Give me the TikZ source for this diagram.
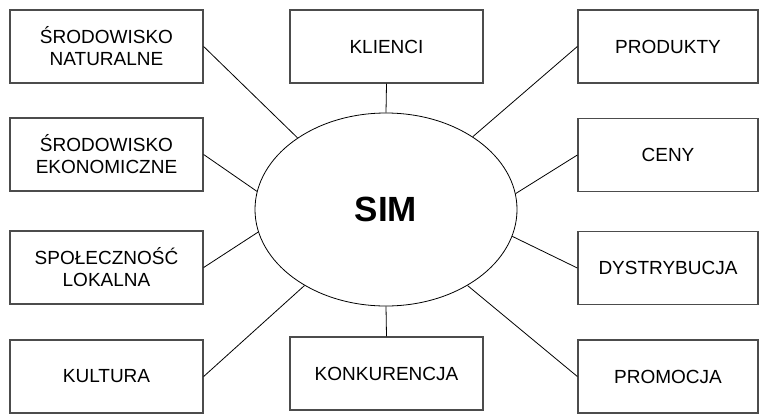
\documentclass[tikz,border=0pt]{standalone}
\usepackage{fontspec}
\setmainfont{Liberation Sans}
\usetikzlibrary{shapes.geometric}

\begin{document}
\begin{tikzpicture}
				[x=1pt,y=-1pt,
				box/.style={rectangle,draw=black!70,line width=1.3pt,inner sep=0pt,
					minimum width=193pt,minimum height=73pt,align=center,
					font=\fontsize{19}{22}\selectfont},
				rbox/.style={box,minimum width=180pt},
				link/.style={line width=0.8pt}]
				\useasboundingbox (0,0) rectangle (759,415);
				\node[ellipse,draw,line width=0.8pt,minimum width=262pt,minimum height=193pt,
					font=\fontsize{35}{38}\selectfont\bfseries] (sim) at (386,209.5) {SIM};
				\node[box] (naturalne) at (106.5,46.5) {ŚRODOWISKO\\NATURALNE};
				\node[box] (ekonomiczne) at (106.5,154.5) {ŚRODOWISKO\\EKONOMICZNE};
				\node[box] (spolecznosc) at (106.5,267.5) {SPOŁECZNOŚĆ\\LOKALNA};
				\node[box] (kultura) at (106.5,376.5) {KULTURA};
				\node[box] (klienci) at (386.5,46.5) {KLIENCI};
				\node[box] (konkurencja) at (386.5,373.5) {KONKURENCJA};
				\node[rbox] (produkty) at (668,46.5) {PRODUKTY};
				\node[rbox] (ceny) at (668,155) {CENY};
				\node[rbox] (dystrybucja) at (668,268) {DYSTRYBUCJA};
				\node[rbox] (promocja) at (668,376.5) {PROMOCJA};
				\draw[link] (naturalne.east) -- (sim.141);
				\draw[link] (ekonomiczne.east) -- (sim.172);
				\draw[link] (spolecznosc.east) -- (sim.190);
				\draw[link] (kultura.east) -- (sim.223);
				\draw[link] (klienci.south) -- (sim.north);
				\draw[link] (konkurencja.north) -- (sim.south);
				\draw[link] (produkty.west) -- (sim.40);
				\draw[link] (ceny.west) -- (sim.7.5);
				\draw[link] (dystrybucja.west) -- (sim.348);
				\draw[link] (promocja.west) -- (sim.317);
			\end{tikzpicture}
\end{document}
